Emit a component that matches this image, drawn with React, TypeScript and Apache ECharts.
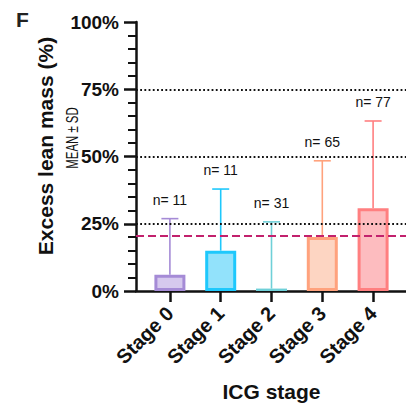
import React, { useEffect, useRef } from "react";
import * as echarts from "echarts";

const categories = ["Stage 0", "Stage 1", "Stage 2", "Stage 3", "Stage 4"];
const means = [6.0, 15.0, 0.9, 20.1, 30.8];
const sdTops = [26.9, 37.9, 25.7, 48.4, 63.2];
const nLabels = ["n= 11", "n= 11", "n= 31", "n= 65", "n= 77"];
const borderColors = ["#a58bd6", "#1ec8fc", "#6fd0d8", "#ffa27d", "#ff7f80"];
const fillColors = ["#d6c9ee", "#92e2fb", "#c9f0f2", "#fdd5c2", "#fdbcbf"];
const yTicks = [0, 25, 50, 75, 100];
const dottedRefs = [25, 50, 75];
const dashedRef = 20.5;

const FONT = "'Liberation Sans', Arial, Helvetica, sans-serif";
const AX = "#111111";

export default function App() {
  const ref = useRef<HTMLDivElement>(null);
  useEffect(() => {
    if (!ref.current) return;
    const chart = echarts.init(ref.current, null, { renderer: "svg" });
    const option: any = {
      animation: false,
      backgroundColor: "#ffffff",
      grid: [
        { left: 136, right: 0, top: 22, bottom: 114, containLabel: false, outerBoundsMode: "none" },
        { left: 144.5, right: 7.5, top: 22, bottom: 114, containLabel: false, outerBoundsMode: "none" },
      ],
      xAxis: [
        {
          gridIndex: 0,
          type: "value",
          min: 0,
          max: 1,
          axisLine: { show: true, onZero: false, lineStyle: { color: AX, width: 2.5 } },
          axisTick: { show: false },
          axisLabel: { show: false },
          splitLine: { show: false },
        },
        {
          gridIndex: 1,
          type: "category",
          data: categories,
          axisLine: { show: false },
          axisTick: { show: true, alignWithLabel: true, length: 11, lineStyle: { color: AX, width: 2.5 } },
          axisLabel: {
            rotate: 45,
            margin: 19,
            fontFamily: FONT,
            fontWeight: "bold",
            fontSize: 20,
            color: AX,
          },
          name: "ICG stage",
          nameLocation: "middle",
          nameGap: 90,
          nameTextStyle: { fontFamily: FONT, fontWeight: "bold", fontSize: 21, color: AX },
        },
      ],
      yAxis: [
        {
          gridIndex: 0,
          type: "value",
          min: 0,
          max: 100,
          interval: 25,
          axisLine: { show: true, lineStyle: { color: AX, width: 2.5 } },
          axisTick: { show: true, length: 12, lineStyle: { color: AX, width: 2.5 } },
          minorTick: { show: true, splitNumber: 5, length: 8, lineStyle: { color: AX, width: 2 } },
          axisLabel: {
            margin: 17,
            formatter: (v: number) => (yTicks.includes(v) ? v + "%" : ""),
            fontFamily: FONT,
            fontWeight: "bold",
            fontSize: 19,
            color: AX,
          },
          splitLine: { show: false },
        },
        {
          gridIndex: 1,
          type: "value",
          min: 0,
          max: 100,
          show: false,
        },
      ],
      graphic: [
        {
          type: "text",
          left: 16,
          top: 9,
          style: { text: "F", fontFamily: FONT, fontWeight: "bold", fontSize: 21, fill: "#222" },
        },
        {
          type: "text",
          x: 45,
          y: 146,
          rotation: Math.PI / 2,
          style: {
            text: "Excess lean mass (%)",
            fontFamily: FONT,
            fontWeight: "bold",
            fontSize: 21,
            fill: AX,
            align: "center",
            verticalAlign: "middle",
          },
        },
        {
          type: "text",
          x: 72,
          y: 138,
          rotation: Math.PI / 2,
          scaleX: 0.76,
          scaleY: 1.1,
          style: {
            text: "MEAN ± SD",
            fontFamily: FONT,
            fontSize: 15,
            fill: AX,
            align: "center",
            verticalAlign: "middle",
          },
        },
      ],
      series: [
        {
          type: "line",
          xAxisIndex: 0,
          yAxisIndex: 0,
          data: [[0.5, 0]],
          symbol: "none",
          lineStyle: { width: 0 },
          z: 1,
          silent: true,
          markLine: {
            symbol: "none",
            silent: true,
            label: { show: false },
            lineStyle: { color: "#111", type: [1.8, 2.4], width: 2.2 },
            data: dottedRefs.map((v) => ({ yAxis: v })),
          },
        },
        {
          type: "custom",
          xAxisIndex: 1,
          yAxisIndex: 1,
          z: 2,
          data: categories.map((_, i) => [i, means[i], sdTops[i]]),
          renderItem: (params: any, api: any) => {
            const i = params.dataIndex;
            const base = api.coord([api.value(0), api.value(1)]);
            const top = api.coord([api.value(0), api.value(2)]);
            const c = borderColors[i];
            const hw = 8.5;
            return {
              type: "group",
              children: [
                {
                  type: "line",
                  shape: { x1: base[0], y1: base[1], x2: top[0], y2: top[1] },
                  style: { stroke: c, lineWidth: 1.6 },
                },
                {
                  type: "line",
                  shape: { x1: top[0] - hw, y1: top[1], x2: top[0] + hw, y2: top[1] },
                  style: { stroke: c, lineWidth: 1.6 },
                },
                {
                  type: "text",
                  x: top[0],
                  y: top[1] - 19,
                  style: {
                    text: nLabels[i],
                    fontFamily: FONT,
                    fontSize: 14,
                    fill: "#111",
                    align: "center",
                    verticalAlign: "middle",
                  },
                },
              ],
            };
          },
        },
        {
          type: "bar",
          xAxisIndex: 1,
          yAxisIndex: 1,
          barWidth: 31,
          z: 3,
          data: means.map((v, i) => ({
            value: v,
            itemStyle: {
              color: fillColors[i],
              borderColor: borderColors[i],
              borderWidth: i === 2 ? 1.5 : 3,
            },
          })),
        },
        {
          type: "line",
          xAxisIndex: 0,
          yAxisIndex: 0,
          data: [[0.5, 0]],
          symbol: "none",
          lineStyle: { width: 0 },
          z: 4,
          silent: true,
          markLine: {
            symbol: "none",
            silent: true,
            label: { show: false },
            lineStyle: { color: "#c2216d", type: [8, 4], width: 2 },
            data: [{ yAxis: dashedRef }],
          },
        },
      ],
    };
    chart.setOption(option);
    return () => chart.dispose();
  }, []);
  return (
    <div
      ref={ref}
      style={{ position: "absolute", left: 0, top: 0, width: 406, height: 405 }}
    />
  );
}
